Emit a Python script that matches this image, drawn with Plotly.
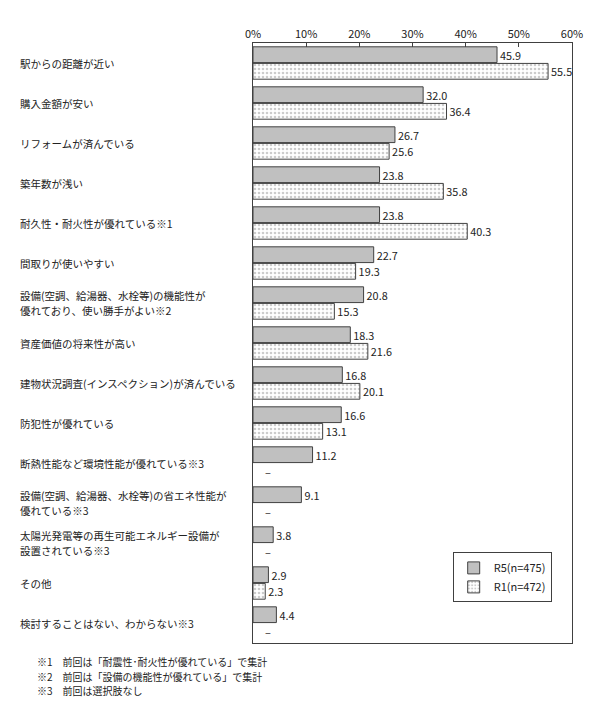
import plotly.graph_objects as go

categories = [
    "駅からの距離が近い",
    "購入金額が安い",
    "リフォームが済んでいる",
    "築年数が浅い",
    "耐久性・耐火性が優れている※1",
    "間取りが使いやすい",
    "設備(空調、給湯器、水栓等)の機能性が<br>優れており、使い勝手がよい※2",
    "資産価値の将来性が高い",
    "建物状況調査(インスペクション)が済んでいる",
    "防犯性が優れている",
    "断熱性能など環境性能が優れている※3",
    "設備(空調、給湯器、水栓等)の省エネ性能が<br>優れている※3",
    "太陽光発電等の再生可能エネルギー設備が<br>設置されている※3",
    "その他",
    "検討することはない、わからない※3",
]
r5_values = [45.9, 32.0, 26.7, 23.8, 23.8, 22.7, 20.8, 18.3, 16.8, 16.6, 11.2, 9.1, 3.8, 2.9, 4.4]
r1_values = [55.5, 36.4, 25.6, 35.8, 40.3, 19.3, 15.3, 21.6, 20.1, 13.1, None, None, None, 2.3, None]
series_names = ["R5(n=475)", "R1(n=472)"]
tick_values = [0, 10, 20, 30, 40, 50, 60]
footnotes = [
    "※1　前回は「耐震性･耐火性が優れている」で集計",
    "※2　前回は「設備の機能性が優れている」で集計",
    "※3　前回は選択肢なし",
]

FONT = "Noto Sans CJK JP, sans-serif"
ids = list(range(len(categories)))

fig = go.Figure()
fig.add_trace(go.Bar(
    y=ids, x=r5_values, orientation="h", name=series_names[0],
    marker=dict(color="#c0c0c0", line=dict(color="#404040", width=1)),
    text=[f"{v:.1f}" for v in r5_values], textposition="outside",
    textfont=dict(size=11, color="#222", family=FONT), cliponaxis=False,
    legendgroup="a",
))
fig.add_trace(go.Bar(
    y=ids, x=r1_values, orientation="h", name=series_names[1],
    marker=dict(color="white", line=dict(color="#404040", width=1),
                pattern=dict(shape=".", fgcolor="#999999", bgcolor="white", size=4, solidity=0.35)),
    text=[("" if v is None else f"{v:.1f}") for v in r1_values], textposition="outside",
    textfont=dict(size=11, color="#222", family=FONT), cliponaxis=False,
    legendgroup="b",
))

annotations = []
for i, lab in enumerate(categories):
    lines = lab.split("<br>")
    n = len(lines)
    for j, line in enumerate(lines):
        annotations.append(dict(
            x=-0.737, xref="paper", y=i, yref="y", text=line, showarrow=False,
            yshift=(n - 1) * 7.5 - 15 * j,
            xanchor="left", yanchor="middle", align="left",
            font=dict(size=10.5, color="#222", family=FONT),
        ))
for i, v in enumerate(r1_values):
    if v is None:
        annotations.append(dict(
            x=2.8, xref="x", y=i, yref="y", yshift=-9, text="–", showarrow=False,
            xanchor="center", yanchor="middle",
            font=dict(size=11, color="#222", family=FONT),
        ))
for k, t in enumerate(footnotes):
    annotations.append(dict(
        x=-0.683, xref="paper", y=-0.031 - 0.0242 * k, yref="paper", text=t,
        showarrow=False, xanchor="left", yanchor="middle",
        font=dict(size=10, color="#222", family=FONT),
    ))

fig.update_layout(
    width=600, height=714,
    margin=dict(l=253, r=28, t=43, b=71),
    paper_bgcolor="white", plot_bgcolor="white",
    barmode="group", bargap=0.17, bargroupgap=0.05,
    font=dict(family=FONT, size=11, color="#222"),
    showlegend=True,
    legend=dict(
        x=0.626, y=0.151, xanchor="left", yanchor="top",
        bordercolor="#404040", borderwidth=1, bgcolor="white",
        font=dict(size=11, family=FONT), tracegroupgap=12,
        traceorder="normal",
    ),
    annotations=annotations,
)
fig.update_xaxes(
    side="top", range=[0, 60], tickvals=tick_values,
    ticktext=[f"{t}%" for t in tick_values],
    ticks="inside", ticklen=4, tickcolor="#404040",
    showline=True, mirror=True, linecolor="#404040", linewidth=1,
    showgrid=False, zeroline=False, tickfont=dict(size=11, family=FONT),
)
fig.update_yaxes(
    range=[len(categories) - 0.5, -0.5], showticklabels=False, ticks="",
    showline=True, mirror=True, linecolor="#404040", linewidth=1,
    showgrid=False, zeroline=False,
)

fig.write_html("out.html")
